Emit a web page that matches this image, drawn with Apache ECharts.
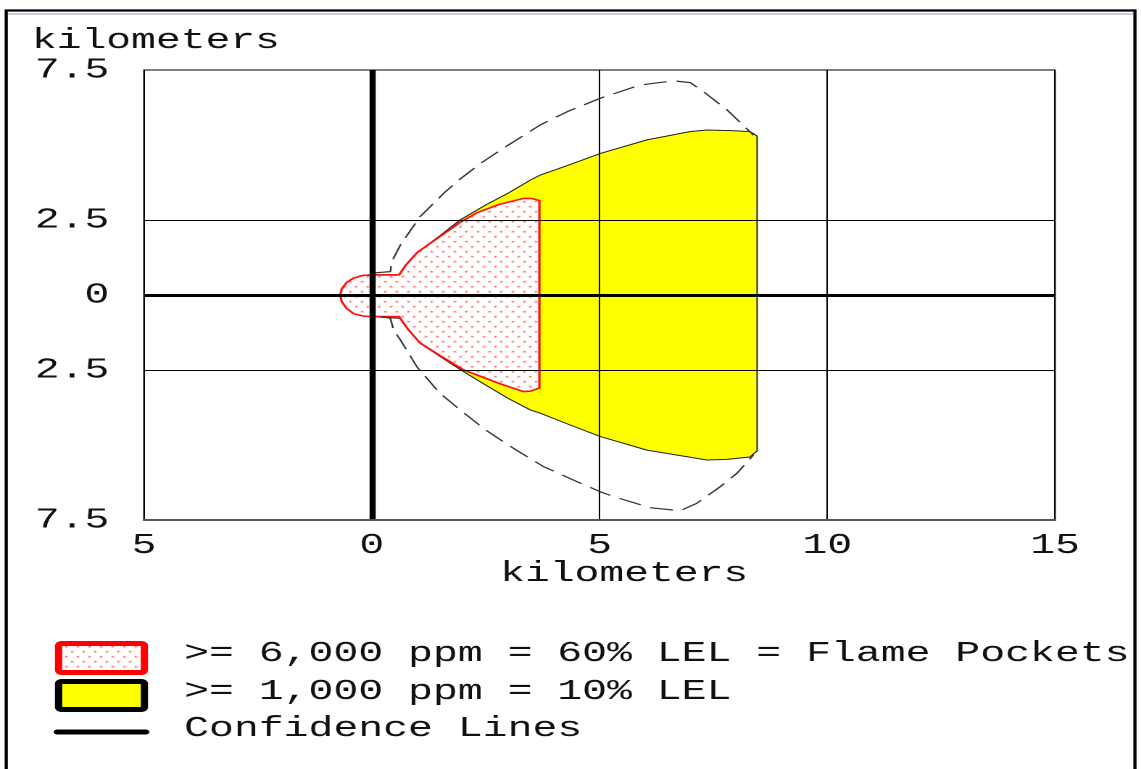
<!DOCTYPE html>
<html>
<head>
<meta charset="utf-8">
<script src="https://cdn.jsdelivr.net/npm/echarts@6/dist/echarts.min.js"></script>
<style>
  html, body { margin: 0; padding: 0; background: #fff; overflow: hidden; }
  #wrap { width: 1141px; height: 769px; position: relative; overflow: hidden; }
  #chart { width: 787px; height: 769px; position: absolute; left: 0; top: 0;
           transform: scaleX(1.44981); transform-origin: 0 0; }
</style>
</head>
<body>
<div id="wrap"><div id="chart"></div></div>
<script>
// ---- data (kilometers) ----
const xTicks = [-5, 0, 5, 10, 15];
const yTicks = [-7.5, -2.5, 0, 2.5, 7.5];

// >= 1,000 ppm (10% LEL) zone outline
const lelX = [-0.69, -0.66, -0.55, -0.4, -0.2, 0.0, 0.6, 0.75, 1.0, 1.5, 1.94, 2.5, 3.0, 3.48, 3.7, 4.3, 5.02, 6.04, 7.0, 7.36, 7.87, 8.3, 8.46,
              8.46, 8.3, 7.8, 7.36, 6.04, 5.02, 4.3, 3.7, 3.48, 3.0, 2.5, 2.02, 1.5, 1.06, 0.8, 0.62, 0.0, -0.2, -0.4, -0.55, -0.66];
const lelY = [0, 0.2, 0.42, 0.57, 0.66, 0.68, 0.68, 1.0, 1.42, 1.98, 2.5, 3.0, 3.4, 3.83, 4.0, 4.32, 4.72, 5.17, 5.45, 5.5, 5.48, 5.45, 5.3,
              -5.2, -5.4, -5.48, -5.5, -5.17, -4.72, -4.3, -3.94, -3.83, -3.45, -3.0, -2.56, -2.05, -1.6, -1.15, -0.78, -0.72, -0.7, -0.62, -0.45, -0.22];

// >= 6,000 ppm (60% LEL, flame pockets) zone outline
const flameX = [-0.69, -0.66, -0.55, -0.4, -0.2, 0.0, 0.6, 0.75, 1.0, 1.5, 1.94, 2.31, 2.8, 3.33, 3.5, 3.68,
                3.68, 3.5, 3.33, 2.8, 2.02, 1.5, 1.06, 0.8, 0.6, 0.0, -0.2, -0.4, -0.55, -0.66];
const flameY = [0, 0.2, 0.42, 0.56, 0.65, 0.67, 0.67, 1.0, 1.42, 1.95, 2.42, 2.74, 3.02, 3.22, 3.22, 3.15,
                -3.1, -3.2, -3.22, -2.95, -2.5, -2.02, -1.6, -1.15, -0.72, -0.72, -0.7, -0.62, -0.45, -0.22];

// confidence lines
const confUpX = [0.08, 0.41, 0.44, 0.63, 1.06, 1.58, 1.91, 2.4, 3.0, 3.7, 4.29, 5.02, 5.89, 6.63, 6.99, 7.28, 7.8, 8.38];
const confUpY = [0.74, 0.78, 1.11, 1.67, 2.61, 3.39, 3.83, 4.4, 5.0, 5.67, 6.11, 6.56, 7.0, 7.14, 7.08, 6.78, 6.17, 5.33];
const confLoX = [0.22, 0.41, 0.48, 0.63, 0.99, 1.5, 1.94, 2.5, 3.1, 3.77, 4.43, 5.02, 5.31, 6.11, 6.77, 7.14, 7.65, 8.02, 8.38];
const confLoY = [-0.72, -0.78, -1.17, -1.5, -2.39, -3.28, -3.83, -4.5, -5.1, -5.72, -6.17, -6.56, -6.72, -7.09, -7.19, -6.94, -6.39, -5.94, -5.33];

const legendLabels = [">= 6,000 ppm = 60% LEL = Flame Pockets", ">= 1,000 ppm = 10% LEL", "Confidence Lines"];
const axisTitle = "kilometers";

// ---- rendering ----
const FONT = '"Liberation Mono", "DejaVu Sans Mono", monospace';
const FS = 28.5;
const LFS = 28.6;

function dotPattern() {
  const c = document.createElement('canvas');
  c.width = 8; c.height = 10;
  const g = c.getContext('2d');
  g.fillStyle = '#ffffff'; g.fillRect(0, 0, 8, 10);
  g.fillStyle = '#ff3030';
  g.fillRect(1, 1, 1.4, 1.4);
  g.fillRect(5, 6, 1.4, 1.4);
  return c;
}
const pat = dotPattern();

function pairs(xs, ys) { return xs.map((x, i) => [x, ys[i]]); }

function polygonSeries(name, xs, ys, style, z) {
  return {
    type: 'custom', name: name, coordinateSystem: 'cartesian2d', z: z, silent: true,
    data: pairs(xs, ys),
    renderItem: function (params, api) {
      if (params.dataIndex !== 0) return null;
      const pts = xs.map((x, i) => api.coord([x, ys[i]]));
      return { type: 'polygon', shape: { points: pts }, style: style };
    }
  };
}

function dashSeries(name, xs, ys) {
  return {
    type: 'line', name: name, data: pairs(xs, ys), showSymbol: false, symbol: 'none',
    z: 4, silent: true, smooth: false,
    lineStyle: { color: '#333', width: 1.2, type: [16, 7] }
  };
}

const chart = echarts.init(document.getElementById('chart'), null, { renderer: 'canvas', devicePixelRatio: 2 });

const option = {
  animation: false,
  backgroundColor: '#ffffff',
  grid: { left: 99.3, right: 59.3, top: 70, bottom: 249, show: true, borderColor: '#000', borderWidth: 1, backgroundColor: 'transparent' },
  xAxis: {
    type: 'value', min: xTicks[0], max: xTicks[xTicks.length - 1], interval: 5, z: 5,
    axisLine: { show: true, onZero: false, lineStyle: { color: '#555', width: 2 } },
    axisTick: { show: false },
    splitLine: { show: true, lineStyle: { color: '#000', width: 1 } },
    axisLabel: {
      margin: 11, color: '#111', fontFamily: FONT, fontSize: FS,
      formatter: v => String(Math.abs(v))
    }
  },
  yAxis: {
    type: 'value', min: yTicks[0], max: yTicks[yTicks.length - 1], interval: 2.5, z: 5,
    axisLine: { show: true, onZero: false, lineStyle: { color: '#000', width: 1 } },
    axisTick: { show: false },
    splitLine: { show: false },
    axisLabel: {
      margin: 24, color: '#111', fontFamily: FONT, fontSize: FS, align: 'right',
      formatter: v => (yTicks.indexOf(v) >= 0 ? String(Math.abs(v)) : '')
    }
  },
  series: [
    polygonSeries('>= 1,000 ppm', lelX, lelY, { fill: '#ffff00', stroke: '#222', lineWidth: 1 }, 1),
    polygonSeries('>= 6,000 ppm', flameX, flameY, { fill: { image: pat, repeat: 'repeat' }, stroke: '#ff1010', lineWidth: 1.6 }, 2),
    dashSeries('Confidence upper', confUpX, confUpY),
    dashSeries('Confidence lower', confLoX, confLoY),
    {
      type: 'line', name: 'refLines', data: [], z: 6, silent: true,
      markLine: {
        silent: true, symbol: 'none', animation: false, label: { show: false },
        data: [
          { yAxis: 2.5, lineStyle: { color: '#000', width: 1, type: 'solid' } },
          { yAxis: -2.5, lineStyle: { color: '#000', width: 1, type: 'solid' } },
          { yAxis: 0, lineStyle: { color: '#000', width: 3, type: 'solid' } },
          { xAxis: 0, lineStyle: { color: '#000', width: 4.2, type: 'solid' } }
        ]
      }
    }
  ],
  graphic: [
    // window frame
    { type: 'rect', shape: { x: 4.3, y: 10.5, width: 778.5, height: 770 }, style: { fill: 'none', stroke: '#000', lineWidth: 2.2 }, z: 100, silent: true },
    { type: 'line', shape: { x1: 5.5, y1: 14, x2: 781.5, y2: 14 }, style: { stroke: '#c5cedb', lineWidth: 2 }, z: 100, silent: true },
    // axis titles
    { type: 'text', left: 22, top: 26, style: { text: axisTitle, font: FS + 'px ' + FONT, fill: '#111' }, z: 100, silent: true },
    { type: 'text', left: 345, top: 559, style: { text: axisTitle, font: FS + 'px ' + FONT, fill: '#111' }, z: 100, silent: true },
    // legend
    { type: 'rect', shape: { x: 40.4, y: 643.5, width: 59.2, height: 29, r: 2 }, style: { fill: { image: pat, repeat: 'repeat' }, stroke: '#ff0000', lineWidth: 5 }, z: 100, silent: true },
    { type: 'rect', shape: { x: 40.4, y: 681.5, width: 59.2, height: 28, r: 2 }, style: { fill: '#ffff00', stroke: '#000', lineWidth: 5 }, z: 100, silent: true },
    { type: 'line', shape: { x1: 39.5, y1: 732, x2: 100.5, y2: 732 }, style: { stroke: '#000', lineWidth: 5, lineCap: 'round' }, z: 100, silent: true },
    { type: 'text', left: 127, top: 639, style: { text: legendLabels[0], font: LFS + 'px ' + FONT, fill: '#111' }, z: 100, silent: true },
    { type: 'text', left: 127, top: 677, style: { text: legendLabels[1], font: LFS + 'px ' + FONT, fill: '#111' }, z: 100, silent: true },
    { type: 'text', left: 127, top: 714, style: { text: legendLabels[2], font: LFS + 'px ' + FONT, fill: '#111' }, z: 100, silent: true }
  ]
};
chart.setOption(option);
</script>
</body>
</html>
